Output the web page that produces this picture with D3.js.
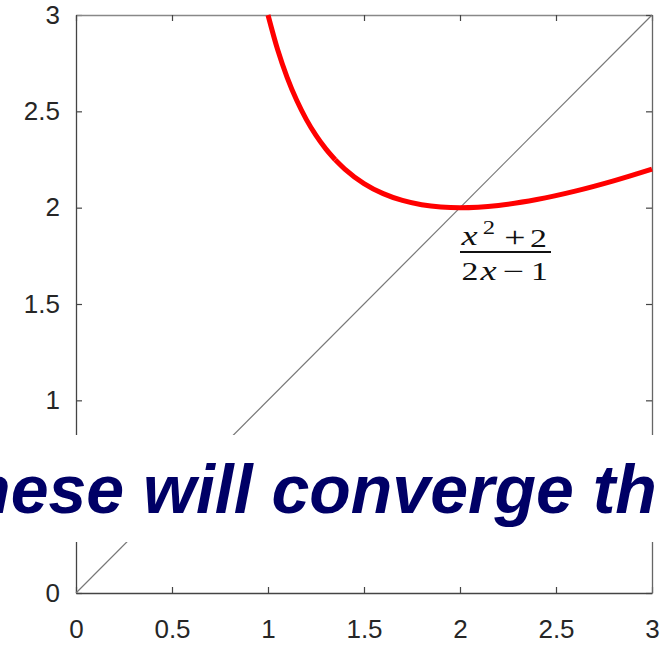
<!DOCTYPE html>
<html>
<head>
<meta charset="utf-8">
<script src="https://cdn.jsdelivr.net/npm/d3@7"></script>
<style>
  html, body { margin: 0; padding: 0; background: #fff; }
  svg { display: block; }
</style>
</head>
<body>
<svg id="chart" width="660" height="648"></svg>
<script>
// Tick values and labels for both axes
const xTicks = [0, 0.5, 1, 1.5, 2, 2.5, 3];
const xTickLabels = ["0", "0.5", "1", "1.5", "2", "2.5", "3"];
const yTicks = [0, 0.5, 1, 1.5, 2, 2.5, 3];
const yTickLabels = ["0", "", "1", "1.5", "2", "2.5", "3"]; // 0.5 sits under the caption band

// Points on y = (x^2 + 2) / (2x - 1), split where the stroke is joined
const curveX1 = [1, 1.05, 1.1, 1.15, 1.2, 1.25, 1.3, 1.35];
const curveY1 = [3, 2.8205, 2.675, 2.5558, 2.4571, 2.375, 2.3063, 2.2485];
const curveX2 = [1.35, 1.4, 1.5, 1.6, 1.7, 1.8, 1.9, 2, 2.2, 2.4, 2.6, 2.8, 3];
const curveY2 = [2.2485, 2.2, 2.125, 2.0727, 2.0375, 2.0154, 2.0036, 2, 2.0118, 2.0421, 2.0857, 2.1391, 2.2];

// Reference line y = x
const diagX = [0, 3];
const diagY = [0, 3];

const bannerText = "hese will converge th";

const svg = d3.select("#chart");
const W = 660, H = 648;
const plotLeft = 76, plotRight = 652, plotTop = 15, plotBottom = 593;

const x = d3.scaleLinear().domain([0, 3]).range([plotLeft, plotRight]);
const y = d3.scaleLinear().domain([0, 3]).range([plotBottom, plotTop]);

const axisColor = "#444";

function styleAxis(g) {
  g.select(".domain").attr("stroke", axisColor).attr("stroke-width", 1.3);
  g.selectAll(".tick line").attr("stroke", axisColor).attr("stroke-width", 1.2);
  g.selectAll(".tick text")
    .attr("fill", "#262626")
    .style("font-family", "'Liberation Sans', Arial, sans-serif")
    .style("font-size", "26px");
}

// Box with inward ticks on all four sides
svg.append("g").attr("transform", `translate(0,${plotBottom})`)
  .call(d3.axisBottom(x).tickValues(xTicks).tickFormat((d, i) => xTickLabels[i])
    .tickSizeInner(-6).tickSizeOuter(0).tickPadding(27))
  .call(styleAxis);
svg.append("g").attr("transform", `translate(${plotLeft},0)`)
  .call(d3.axisLeft(y).tickValues(yTicks).tickFormat((d, i) => yTickLabels[i])
    .tickSizeInner(-6).tickSizeOuter(0).tickPadding(16))
  .call(styleAxis);
svg.append("g").attr("transform", `translate(0,${plotTop})`)
  .call(d3.axisTop(x).tickValues(xTicks).tickFormat("").tickSizeInner(-6).tickSizeOuter(0))
  .call(styleAxis)
  .call(g => g.select(".domain").attr("stroke", "#888"));
svg.append("g").attr("transform", `translate(${plotRight},0)`)
  .call(d3.axisRight(y).tickValues(yTicks).tickFormat("").tickSizeInner(-6).tickSizeOuter(0))
  .call(styleAxis)
  .call(g => g.select(".domain").attr("stroke", "#666"));
svg.selectAll(".tick text").filter(function () { return this.textContent === ""; }).remove();

// y = x line
const line = d3.line().x(d => x(d[0])).y(d => y(d[1]));
svg.append("path")
  .datum(d3.zip(diagX, diagY))
  .attr("d", line)
  .attr("fill", "none")
  .attr("stroke", "#777")
  .attr("stroke-width", 1.2);

// Red curve in two joined pieces
const smooth = d3.line().x(d => x(d[0])).y(d => y(d[1])).curve(d3.curveMonotoneX);
[[curveX1, curveY1], [curveX2, curveY2]].forEach(([xs, ys]) => {
  svg.append("path")
    .datum(d3.zip(xs, ys))
    .attr("d", smooth)
    .attr("fill", "none")
    .attr("stroke", "#ff0000")
    .attr("stroke-width", 5)
    .attr("stroke-linecap", "butt");
});

// Fraction label (x^2+2)/(2x-1): numerator and denominator, glyphs placed individually
const sx = 1.3;
const numerGlyphs = [
  { t: "x", cx: 469.5, by: 245, size: 28, italic: true },
  { t: "2", cx: 489, by: 234, size: 19, italic: false },
  { t: "+", cx: 515, by: 247.5, size: 29, italic: false },
  { t: "2", cx: 538.5, by: 247, size: 26, italic: false }
];
const denomGlyphs = [
  { t: "2", cx: 470, by: 280, size: 26, italic: false },
  { t: "x", cx: 488.5, by: 280, size: 28, italic: true },
  { t: "\u2212", cx: 513.5, by: 281, size: 29, italic: false },
  { t: "1", cx: 539.5, by: 280, size: 26, italic: false }
];
[numerGlyphs, denomGlyphs].forEach(glyphs => {
  svg.append("text")
    .attr("transform", `scale(${sx},1)`)
    .attr("text-anchor", "middle")
    .attr("fill", "#111")
    .style("font-family", "'Liberation Serif', 'DejaVu Serif', serif")
    .selectAll("tspan")
    .data(glyphs)
    .join("tspan")
    .attr("x", d => d.cx / sx)
    .attr("y", d => d.by)
    .style("font-size", d => d.size + "px")
    .style("font-style", d => d.italic ? "italic" : "normal")
    .text(d => d.t);
});
svg.append("line")
  .attr("x1", 460).attr("x2", 551).attr("y1", 252).attr("y2", 252)
  .attr("stroke", "#111").attr("stroke-width", 1.8);

// White banner with the caption on top of the plot
svg.append("rect")
  .attr("x", 0).attr("y", 435).attr("width", W).attr("height", 107)
  .attr("fill", "#fff");
const banner = svg.append("text")
  .attr("y", 513)
  .attr("fill", "#000066")
  .style("font-family", "'Liberation Sans', Arial, sans-serif")
  .style("font-weight", "bold")
  .style("font-style", "italic")
  .style("font-size", "68px")
  .text(bannerText);
const lead = banner.node().getSubStringLength(0, 5);
banner.attr("x", 143 - lead);
</script>
</body>
</html>
